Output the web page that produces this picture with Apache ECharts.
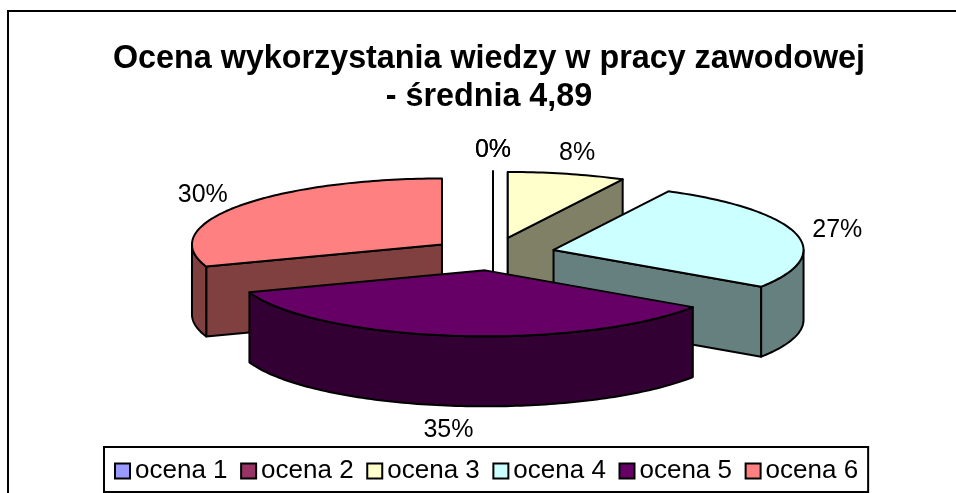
<!DOCTYPE html>
<html>
<head>
<meta charset="utf-8">
<script src="https://cdn.jsdelivr.net/npm/echarts@6/dist/echarts.min.js" type="text/javascript"></script>
<style>
    html, body { margin: 0; padding: 0; background: #fff; }
    #report { width: 956px; height: 493px; }
</style>
</head>
<body>
<div id="report"></div>
<script type="text/javascript">
    var titleLines = ['Ocena wykorzystania wiedzy w pracy zawodowej', '- średnia 4,89'];
    var categories = ['ocena 1', 'ocena 2', 'ocena 3', 'ocena 4', 'ocena 5', 'ocena 6'];
    var shares = [0, 0, 7.6, 26.8, 35.2, 30.4];
    var topColors = ['#9999FF', '#993366', '#FFFFCC', '#CCFFFF', '#660066', '#FF8080'];
    var wallColors = ['#4C4C80', '#4C1933', '#808066', '#668080', '#330033', '#804040'];

    var FONT = '"Liberation Sans", Arial, sans-serif';
    // the tilted pie: centre, ellipse radii, thickness, how far slices are pulled out
    var CX = 493, CY = 254, RX = 250, RY = 66, DEPTH = 70, EXPLODE = 0.25;
    var LABEL_RX = 293, LABEL_RY = 89;

    var total = shares.reduce(function (a, b) { return a + b; }, 0);

    function rad(share) {
        return share / total * 2 * Math.PI;
    }

    // start and end angle of every slice, clockwise from the top
    var slices = [];
    var sum = 0;
    for (var i = 0; i < shares.length; i++) {
        slices.push({ start: rad(sum), end: rad(sum + shares[i]) });
        sum += shares[i];
    }

    function rim(apex, a) {
        return [apex[0] + RX * Math.sin(a), apex[1] - RY * Math.cos(a)];
    }

    function arcPoints(apex, from, to) {
        var pts = [];
        var n = Math.max(1, Math.ceil((to - from) / 0.02));
        for (var k = 0; k <= n; k++) {
            pts.push(rim(apex, from + (to - from) * k / n));
        }
        return pts;
    }

    function drop(p) {
        return [p[0], p[1] + DEPTH];
    }

    function poly(points, fill) {
        return {
            type: 'polygon',
            shape: { points: points },
            style: { fill: fill, stroke: '#000', lineWidth: 2, lineJoin: 'round' }
        };
    }

    function renderSlice(params) {
        var idx = params.seriesIndex;
        var s = slices[idx];
        var mid = (s.start + s.end) / 2;
        var apex = [CX + EXPLODE * RX * Math.sin(mid), CY - EXPLODE * RY * Math.cos(mid)];
        var wall = wallColors[idx];
        var children = [];

        // walls that face the viewer
        if (Math.sin(s.start) <= 1e-6) {
            var p0 = rim(apex, s.start);
            children.push(poly([apex, p0, drop(p0), drop(apex)], wall));
        }
        if (Math.sin(s.end) > 1e-6) {
            var p1 = rim(apex, s.end);
            children.push(poly([apex, p1, drop(p1), drop(apex)], wall));
        }
        var from = Math.max(s.start, Math.PI / 2);
        var to = Math.min(s.end, Math.PI * 1.5);
        if (to > from) {
            var arc = arcPoints(apex, from, to);
            children.push(poly(arc.concat(arc.slice().reverse().map(drop)), wall));
        }
        // top face
        children.push(poly([apex].concat(arcPoints(apex, s.start, s.end)), topColors[idx]));

        // percent label
        var lowered = Math.cos(mid) < 0 ? DEPTH * -Math.cos(mid) : 0;
        children.push({
            type: 'text',
            style: {
                x: apex[0] + LABEL_RX * Math.sin(mid),
                y: apex[1] - LABEL_RY * Math.cos(mid) + lowered + 2,
                text: Math.round(shares[idx] / total * 100) + '%',
                fill: '#000',
                font: '25px ' + FONT,
                align: 'center',
                verticalAlign: 'middle'
            }
        });
        return { type: 'group', children: children };
    }

    // slices further back are painted first
    var order = slices.map(function (s, idx) {
        return { idx: idx, depth: -Math.cos((s.start + s.end) / 2) };
    }).sort(function (a, b) { return a.depth - b.depth; });

    var series = [];
    for (var j = 0; j < categories.length; j++) {
        var rank = 0;
        for (var r = 0; r < order.length; r++) {
            if (order[r].idx === j) rank = r;
        }
        series.push({
            name: categories[j],
            type: 'custom',
            coordinateSystem: 'none',
            z: 2 + rank,
            silent: true,
            renderItem: renderSlice,
            data: [shares[j]]
        });
    }

    var option = {
        animation: false,
        color: topColors,
        backgroundColor: '#fff',
        title: {
            text: titleLines.join('\n'),
            left: 484,
            top: 35,
            textAlign: 'center',
            textStyle: { fontFamily: FONT, fontSize: 32.3, fontWeight: 'bold', color: '#000', lineHeight: 38 }
        },
        legend: {
            left: 104,
            top: 447,
            icon: 'rect',
            itemWidth: 15,
            itemHeight: 15,
            itemGap: 12.6,
            padding: [11, 10, 8, 10],
            borderColor: '#000',
            borderWidth: 2,
            itemStyle: { borderColor: '#000', borderWidth: 2 },
            textStyle: { fontFamily: FONT, fontSize: 26, color: '#000' },
            data: categories
        },
        graphic: [{
            type: 'polyline',
            shape: { points: [[8, 493], [8, 11], [956, 11]] },
            style: { fill: null, stroke: '#000', lineWidth: 2 },
            silent: true
        }],
        series: series
    };

    var myChart = echarts.init(document.getElementById('report'));
    myChart.setOption(option);
</script>
</body>
</html>
